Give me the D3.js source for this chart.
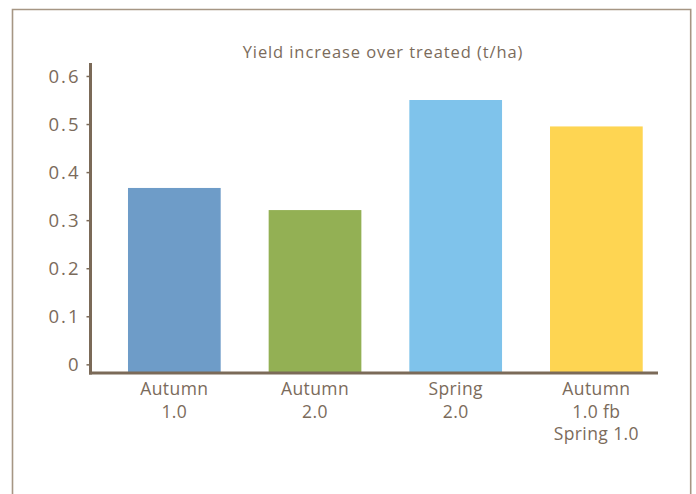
<!DOCTYPE html>
<html><head><meta charset="utf-8">
<script src="https://cdn.jsdelivr.net/npm/d3@7"></script>
<style>html,body{margin:0;padding:0;background:#fff;}svg{display:block;}</style>
</head><body>
<script>
const categories = [["Autumn","1.0"],["Autumn","2.0"],["Spring","2.0"],["Autumn","1.0 fb","Spring 1.0"]];
const values = [0.367, 0.321, 0.55, 0.495];
const colors = ["#6e9cc8", "#93b054", "#7fc3eb", "#fed552"];
const yTicks = [0, 0.1, 0.2, 0.3, 0.4, 0.5, 0.6];
const title = "Yield increase over treated (t/ha)";

const W = 696, H = 494;
const txt = "#7b6b5b", axisCol = "#7b6a58";
const font = "'Open Sans', Lato, sans-serif";
const svg = d3.select("body").append("svg").attr("width", W).attr("height", H);

// frame
svg.append("path").attr("d", `M12.5,${H+5}V9.5H690.7V${H+5}`)
  .attr("fill","none").attr("stroke","#a69684").attr("stroke-width",1.6);

const y = d3.scaleLinear().domain([-0.018, 0.627]).range([373, 63]);
const x = d3.scaleBand().domain(d3.range(categories.length)).range([90, 680.7])
  .paddingInner(0.341).paddingOuter(0.27);

svg.append("text").attr("x", 383).attr("y", 58).attr("text-anchor","middle")
  .attr("font-family", font).attr("font-size", 16.5)
  .attr("letter-spacing", 0.9).attr("fill", txt).text(title);

// bars
svg.selectAll("rect.bar").data(values).join("rect").attr("class","bar")
  .attr("x",(d,i)=>x(i)).attr("width",x.bandwidth())
  .attr("y",d=>y(d)).attr("height",d=>y(-0.018)-y(d))
  .attr("fill",(d,i)=>colors[i]);

// y axis
const yAxis = d3.axisLeft(y).tickValues(yTicks).tickSize(4).tickPadding(6)
  .tickFormat(d => d === 0 ? "0" : d3.format(".1f")(d));
const ga = svg.append("g").attr("transform","translate(90.5,0)").call(yAxis);
ga.select(".domain").remove();
ga.selectAll(".tick line").attr("stroke", axisCol).attr("stroke-width",1.5);
ga.selectAll(".tick text").attr("font-family", font).attr("font-size", 18.5)
  .attr("letter-spacing", 2).attr("fill", txt).attr("dy","0.35em");
svg.append("line").attr("x1",90.5).attr("x2",90.5).attr("y1",y(0.627)).attr("y2",y(-0.018)+1.5)
  .attr("stroke",axisCol).attr("stroke-width",3);
// x axis line
svg.append("line").attr("x1",89).attr("x2",658).attr("y1",y(-0.018)).attr("y2",y(-0.018))
  .attr("stroke",axisCol).attr("stroke-width",3);

// category labels
categories.forEach((lines,i)=>{
  const t = svg.append("text").attr("text-anchor","middle")
    .attr("font-family", font).attr("font-size", 17.5)
    .attr("letter-spacing", 0.4).attr("fill", txt);
  lines.forEach((l,j)=>{
    t.append("tspan").attr("x", x(i)+x.bandwidth()/2).attr("y", 395 + j*22.5).text(l);
  });
});
</script>
</body></html>
